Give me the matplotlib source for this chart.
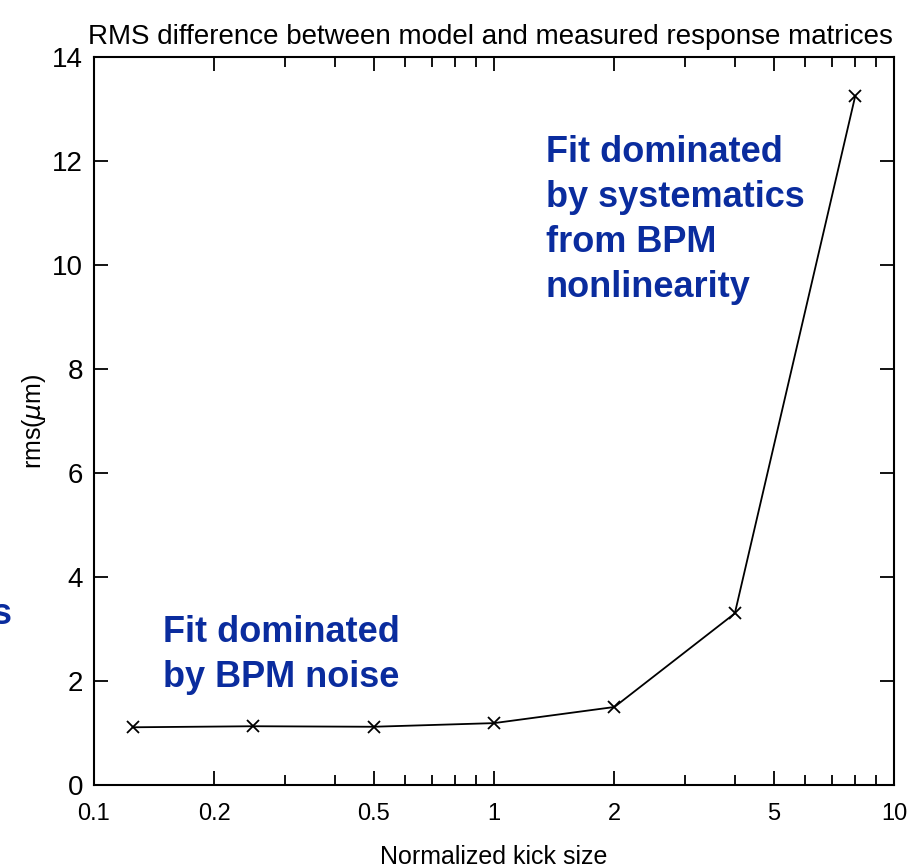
import matplotlib
matplotlib.use('Agg')
import matplotlib.pyplot as plt
from matplotlib.ticker import LogLocator, NullFormatter
import numpy as np

# data
kick = [0.125, 0.25, 0.5, 1, 2, 4, 8]
rms = [1.11, 1.13, 1.12, 1.19, 1.5, 3.3, 13.25]

xtick_vals = [0.1, 0.2, 0.5, 1, 2, 5, 10]
xtick_labels = ['0.1', '0.2', '0.5', '1', '2', '5', '10']
ytick_vals = [0, 2, 4, 6, 8, 10, 12, 14]

plain = dict(family='Liberation Sans')
bold_font = dict(family='Liberation Sans', fontweight='bold')
blue = '#0A2C9E'

fig = plt.figure(figsize=(9.13, 8.68), dpi=100)
ax = fig.add_axes([94 / 913, 1 - 785 / 868, 800 / 913, 728 / 868])

ax.plot(kick, rms, color='black', lw=1.3, marker='x', ms=9, mew=1.3)

ax.set_xscale('log')
ax.set_xlim(0.1, 10)
ax.set_ylim(0, 14)

ax.xaxis.set_minor_locator(LogLocator(base=10, subs=np.arange(2, 10)))
ax.xaxis.set_minor_formatter(NullFormatter())
ax.set_xticks(xtick_vals)
ax.set_xticklabels(xtick_labels, fontsize=17, **plain)
ax.set_yticks(ytick_vals)
ax.set_yticklabels([str(v) for v in ytick_vals], fontsize=20, **plain)

ax.tick_params(which='both', direction='in', top=True, right=True, width=1.3)
ax.tick_params(which='major', length=10)
ax.tick_params(axis='x', which='major', pad=13)
ax.tick_params(axis='y', which='major', pad=8)
ax.tick_params(which='minor', length=7)
for s in ax.spines.values():
    s.set_linewidth(1.5)

ax.set_title('RMS difference between model and measured response matrices',
             fontsize=20, pad=9, x=0.496, **plain)
ax.set_xlabel('Normalized kick size', fontsize=18, labelpad=14, **plain)
ax.set_ylabel(r'rms($\mu$m)', fontsize=18, labelpad=3, **plain)

ax.text(0.565, 0.893, 'Fit dominated\nby systematics\nfrom BPM\nnonlinearity',
        transform=ax.transAxes, color=blue, fontsize=26,
        va='top', ha='left', linespacing=1.37, **bold_font)
ax.text(0.086, 0.2335, 'Fit dominated\nby BPM noise',
        transform=ax.transAxes, color=blue, fontsize=26,
        va='top', ha='left', linespacing=1.37, **bold_font)
fig.text(12 / 913, 1 - 615 / 868, 's', color=blue, fontsize=26,
         va='center', ha='right', **bold_font)

fig.savefig('out.png', dpi=100)
